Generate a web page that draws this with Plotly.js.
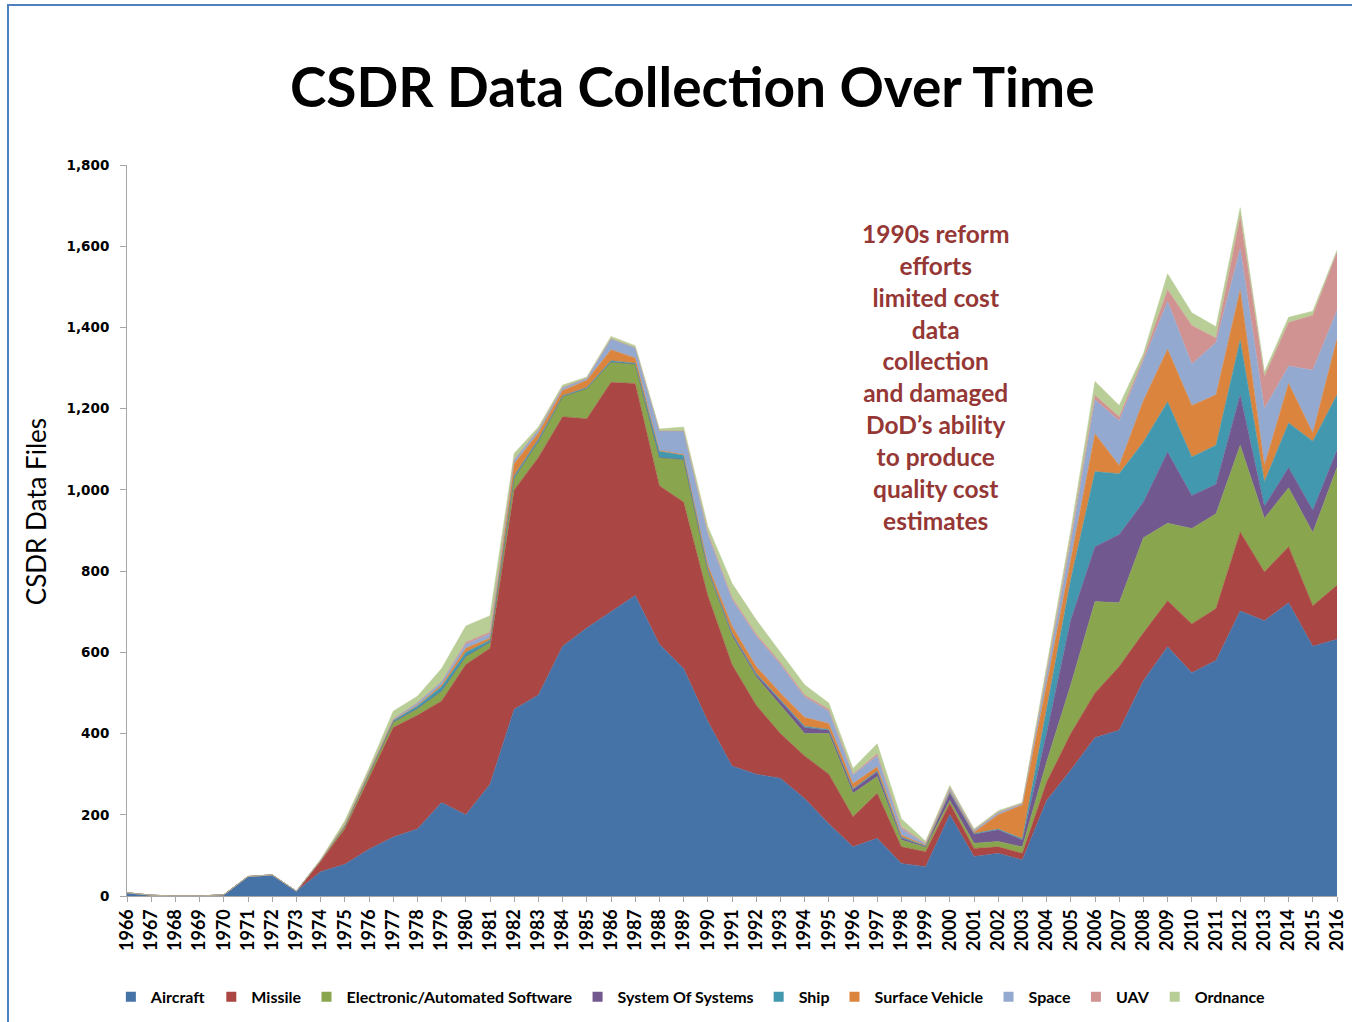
<!DOCTYPE html>
<html>
<head>
<meta charset="utf-8">
<script src="https://cdn.plot.ly/plotly-3.0.1.min.js"></script>
<style>
  html, body { margin: 0; padding: 0; background: #ffffff; }
  #frame { position: absolute; left: 7px; top: 4px; width: 1345px; height: 1018px;
           border-left: 2px solid #4F81BD; border-top: 2px solid #4F81BD; box-sizing: border-box; pointer-events: none; z-index: 5; }
  #chart { position: absolute; left: 0; top: 0; width: 1352px; height: 1022px; }
</style>
</head>
<body>
<div id="chart"></div>
<div id="frame"></div>
<script>
const years = [];
for (let y = 1966; y <= 2016; y++) years.push(y);

const aircraft = [8,2,0,0,3,48,52,12,60,78,115,145,165,230,200,275,460,495,615,660,700,740,620,560,430,320,300,290,240,178,121,142,80,72,200,97,105,89,235,310,390,408,530,614,550,580,702,678,722,615,632];
const missile = [0,0,0,0,0,0,0,0,25,87,175,270,280,250,370,335,540,585,565,515,565,522,390,410,310,250,170,110,105,122,74,111,41,37,28,20,16,16,45,90,110,157,118,113,120,128,194,120,138,100,133];
const electronic = [0,0,0,0,0,0,0,0,3,7,10,13,17,25,20,15,30,40,50,75,50,48,70,105,60,70,70,70,55,100,58,41,17,11,7,13,13,16,50,120,225,157,234,191,235,233,214,132,145,180,290];
const systemOfSystems = [0,0,0,0,0,0,0,0,0,0,0,0,0,0,0,0,0,0,0,0,0,0,0,0,3,5,5,10,15,8,9,12,5,2,18,22,29,17,70,160,135,168,88,175,81,73,124,30,50,55,43];
const ship = [0,0,0,0,0,0,0,0,0,2,3,4,6,10,10,5,5,5,2,2,3,2,15,10,3,3,3,2,3,2,2,2,2,1,3,2,2,3,60,100,185,150,148,124,95,96,135,60,110,170,136];
const surfaceVehicle = [0,0,0,0,0,0,0,0,0,0,0,0,2,5,10,5,30,15,13,18,27,13,2,2,9,17,17,18,22,15,13,10,5,2,2,3,35,83,60,50,93,20,102,129,127,124,124,40,97,20,138];
const space = [0,0,0,0,0,0,0,0,0,2,3,4,6,8,10,10,10,8,7,5,27,25,48,58,75,65,75,70,50,30,21,27,15,3,7,4,5,3,25,40,84,110,98,118,102,129,101,140,43,155,70];
const uav = [0,0,0,0,0,0,0,0,0,0,0,0,0,0,5,5,0,0,0,0,0,0,0,0,5,5,5,5,5,5,2,5,5,1,1,1,1,1,5,10,11,10,7,29,95,11,79,79,107,135,143];
const ordnance = [0,0,0,0,0,0,0,0,2,9,9,19,16,32,40,40,15,7,6,3,6,5,5,10,15,35,35,25,25,15,14,25,20,6,6,3,4,2,10,20,34,28,10,39,31,28,22,11,13,10,5];

const seriesNames = ["Aircraft","Missile","Electronic/Automated Software","System Of Systems","Ship","Surface Vehicle","Space","UAV","Ordnance"];
const seriesValues = [aircraft, missile, electronic, systemOfSystems, ship, surfaceVehicle, space, uav, ordnance];
const seriesColors = ["#4572A7","#AA4643","#89A54E","#71588F","#4198AF","#DB843D","#93A9CF","#D19392","#B9CD96"];

const yTickVals = [0,200,400,600,800,1000,1200,1400,1600,1800];
const annotationText = "1990s reform<br>efforts<br>limited cost<br>data<br>collection<br>and damaged<br>DoD’s ability<br>to produce<br>quality cost<br>estimates";

const areaTraces = seriesNames.map((name, i) => ({
  type: "scatter",
  mode: "lines",
  name: name,
  legendgroup: name,
  showlegend: false,
  x: years,
  y: seriesValues[i],
  stackgroup: "one",
  line: { width: 0.5, color: seriesColors[i] },
  fillcolor: seriesColors[i]
}));

// legend-only entries with square swatches (no data drawn)
const legendTraces = seriesNames.map((name, i) => ({
  type: "scatter",
  mode: "markers",
  name: name,
  legendgroup: name,
  showlegend: true,
  x: [null],
  y: [null],
  marker: { symbol: "square", size: 10, color: seriesColors[i] }
}));

const layout = {
  width: 1352,
  height: 1022,
  paper_bgcolor: "#ffffff",
  plot_bgcolor: "#ffffff",
  margin: { l: 127, r: 15, t: 165, b: 126, autoexpand: false },
  font: { family: "Lato, 'Open Sans', sans-serif", color: "#000000" },
  title: {
    text: "CSDR Data Collection Over Time",
    font: { family: "Lato, sans-serif", size: 55, weight: 700, color: "#000000" },
    x: 0.512, xanchor: "center",
    y: 0.914, yanchor: "middle"
  },
  xaxis: {
    range: [1966, 2016],
    tickmode: "array",
    tickvals: years,
    ticktext: years.map(String),
    tickangle: -90,
    tickfont: { family: "Lato, sans-serif", size: 18, weight: 700, color: "#000000" },
    showgrid: false,
    zeroline: false,
    showline: true,
    linecolor: "#A6A6A6",
    linewidth: 1,
    ticks: "outside",
    ticklen: 5,
    tickcolor: "#A6A6A6",
    automargin: false
  },
  yaxis: {
    range: [0, 1800],
    tickmode: "array",
    tickvals: yTickVals,
    tickformat: ",d",
    tickfont: { family: "'DejaVu Sans', sans-serif", size: 13.5, weight: 700, color: "#000000" },
    showgrid: false,
    zeroline: false,
    showline: true,
    linecolor: "#A6A6A6",
    linewidth: 1,
    ticks: "outside",
    ticklen: 6,
    tickcolor: "#A6A6A6",
    ticklabelstandoff: 8,
    automargin: false
  },
  legend: {
    orientation: "h",
    x: 0.466, xanchor: "center",
    y: -0.138, yanchor: "middle",
    font: { family: "Lato, sans-serif", size: 16, weight: 700, color: "#000000" },
    itemwidth: 30,
    traceorder: "normal",
    bgcolor: "rgba(0,0,0,0)"
  },
  showlegend: true,
  annotations: [
    {
      x: 1999.4, y: 1278,
      xref: "x", yref: "y",
      text: annotationText,
      showarrow: false,
      align: "center",
      font: { family: "Lato, sans-serif", size: 24.5, weight: 700, color: "#953735" }
    },
    {
      x: -0.0752, y: 0.525,
      xref: "paper", yref: "paper",
      xanchor: "center", yanchor: "middle",
      text: "CSDR Data Files",
      textangle: -90,
      showarrow: false,
      font: { family: "Lato, sans-serif", size: 26, color: "#000000" }
    }
  ]
};

Plotly.newPlot("chart", areaTraces.concat(legendTraces), layout, { displayModeBar: false, staticPlot: true });
</script>
</body>
</html>
